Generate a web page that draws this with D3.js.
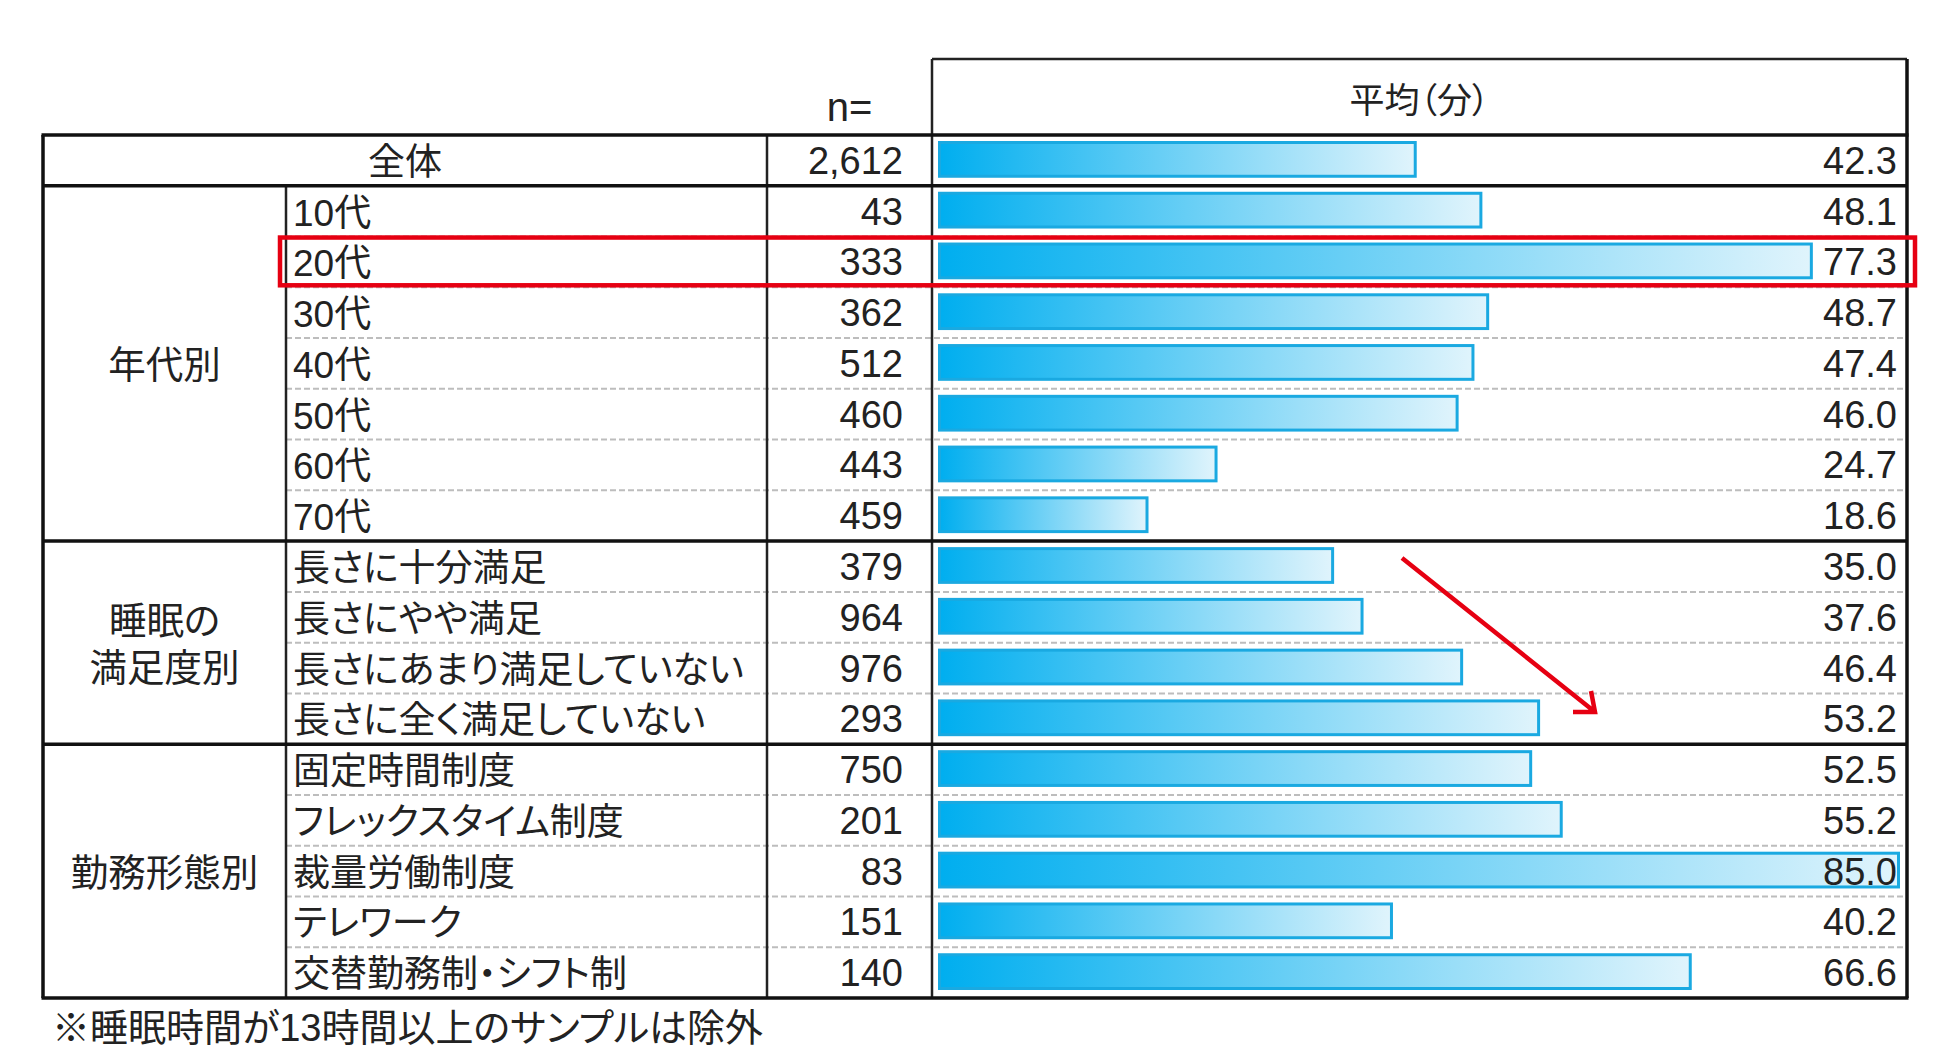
<!DOCTYPE html>
<meta charset="utf-8">
<style>
  body { margin: 0; background: #fff; }
  text { font-family: "Liberation Sans", Arial, "Noto Sans CJK JP", sans-serif; fill: #222; }
  .jp { font-feature-settings: "palt"; }
  .grid { stroke: #bdbdbd; stroke-width: 2; stroke-dasharray: 6,3; }
  .rule { stroke: #222; stroke-width: 2.5; }
  .thick { stroke: #111; stroke-width: 3.5; }
  .bar { fill: url(#barGrad); stroke: #1aa9e1; stroke-width: 3; }
</style>
<svg width="1950" height="1059"></svg>
<script src="https://d3js.org/d3.v7.min.js"></script>
<script>

  // data
  var rowLabels = ["全体", "10代", "20代", "30代", "40代", "50代", "60代", "70代",
    "長さに十分満足", "長さにやや満足", "長さにあまり満足していない", "長さに全く満足していない",
    "固定時間制度", "フレックスタイム制度", "裁量労働制度", "テレワーク", "交替勤務制・シフト制"];
  var rowGroup = ["全体", "年代別", "年代別", "年代別", "年代別", "年代別", "年代別", "年代別",
    "睡眠の満足度別", "睡眠の満足度別", "睡眠の満足度別", "睡眠の満足度別",
    "勤務形態別", "勤務形態別", "勤務形態別", "勤務形態別", "勤務形態別"];
  var groupNames = ["年代別", "睡眠の満足度別", "勤務形態別"];
  var groupLines = [["年代別"], ["睡眠の", "満足度別"], ["勤務形態別"]];
  var nValues = [2612, 43, 333, 362, 512, 460, 443, 459, 379, 964, 976, 293, 750, 201, 83, 151, 140];
  var means = [42.3, 48.1, 77.3, 48.7, 47.4, 46.0, 24.7, 18.6, 35.0, 37.6, 46.4, 53.2, 52.5, 55.2, 85.0, 40.2, 66.6];
  var highlight = "20代";

  var svg = d3.select("svg");

  var xLeft = 43, catRight = 286, labRight = 767, nRight = 932, xRight = 1907,
      headTop = 59, tableTop = 135, tableBottom = 998;

  var y = d3.scaleBand().domain(rowLabels).range([tableTop, tableBottom]);
  var x = d3.scaleLinear().domain([0, 85]).range([938, 1900]);
  var fmtN = d3.format(",");

  var defs = svg.append("defs");
  var grad = defs.append("linearGradient").attr("id", "barGrad");
  grad.append("stop").attr("offset", "0%").attr("stop-color", "#00aeef");
  grad.append("stop").attr("offset", "100%").attr("stop-color", "#e0f4fc");

  // dashed separators inside each group
  var dashed = rowLabels.filter(function(d, i) {
    return i > 0 && rowGroup[i] === rowGroup[i - 1];
  });
  svg.append("g").selectAll("line")
    .data(dashed)
    .enter().append("line")
    .attr("class", "grid")
    .attr("x1", catRight).attr("x2", xRight)
    .attr("y1", function(d) { return y(d); })
    .attr("y2", function(d) { return y(d); });

  // bars
  svg.append("g").selectAll("rect")
    .data(rowLabels)
    .enter().append("rect")
    .attr("class", "bar")
    .attr("x", x(0) + 1.5)
    .attr("y", function(d) { return y(d) + 7.5; })
    .attr("height", y.bandwidth() - 17)
    .attr("width", function(d, i) { return x(means[i]) - x(0) - 3; });

  // table rules
  var g = svg.append("g");
  function rule(cls, x1, y1, x2, y2) {
    g.append("line").attr("class", cls)
      .attr("x1", x1).attr("y1", y1).attr("x2", x2).attr("y2", y2);
  }
  rule("rule", nRight, headTop, xRight, headTop);
  rule("rule", nRight, headTop, nRight, tableBottom);
  rule("thick", xRight, headTop, xRight, tableBottom);
  rule("thick", xLeft, tableTop, xLeft, tableBottom);
  rule("rule", catRight, y("10代"), catRight, tableBottom);
  rule("rule", labRight, tableTop, labRight, tableBottom);
  rule("thick", xLeft - 1.5, tableTop, xRight + 1.5, tableTop);
  rule("thick", xLeft - 1.5, tableBottom, xRight + 1.5, tableBottom);
  groupNames.forEach(function(gn) {
    var first = rowLabels[rowGroup.indexOf(gn)];
    rule("thick", xLeft, y(first), xRight, y(first));
  });

  // header
  svg.append("text")
    .attr("x", (labRight + nRight) / 2).attr("y", 121)
    .attr("text-anchor", "middle").style("font-size", "40px")
    .text("n=");
  svg.append("text")
    .attr("class", "jp")
    .attr("x", (nRight + xRight) / 2).attr("y", 100)
    .attr("text-anchor", "middle").attr("dominant-baseline", "central")
    .style("font-size", "35px")
    .text("平均（分）");

  // group labels
  groupNames.forEach(function(gn, k) {
    var rows = rowLabels.filter(function(d, i) { return rowGroup[i] === gn; });
    var cy = (y(rows[0]) + y(rows[rows.length - 1]) + y.bandwidth()) / 2;
    var lines = groupLines[k];
    lines.forEach(function(t, j) {
      svg.append("text")
        .attr("class", "jp")
        .attr("x", (xLeft + catRight) / 2)
        .attr("y", cy + 2 + (j - (lines.length - 1) / 2) * 47)
        .attr("text-anchor", "middle").attr("dominant-baseline", "central")
        .style("font-size", "37.5px")
        .text(t);
    });
  });

  // row labels
  svg.append("g").selectAll("text")
    .data(rowLabels)
    .enter().append("text")
    .attr("class", "jp")
    .attr("x", function(d, i) { return i === 0 ? (xLeft + labRight) / 2 : 293; })
    .attr("y", function(d) { return y(d) + y.bandwidth() / 2 + 2; })
    .attr("text-anchor", function(d, i) { return i === 0 ? "middle" : "start"; })
    .attr("dominant-baseline", "central")
    .style("font-size", "37px")
    .text(function(d) { return d; });

  // n values
  svg.append("g").selectAll("text")
    .data(nValues)
    .enter().append("text")
    .attr("x", 903)
    .attr("y", function(d, i) { return y(rowLabels[i]) + y.bandwidth() / 2 + 13.5; })
    .attr("text-anchor", "end")
    .style("font-size", "38px")
    .text(function(d) { return fmtN(d); });

  // mean values
  svg.append("g").selectAll("text")
    .data(means)
    .enter().append("text")
    .attr("x", 1897)
    .attr("y", function(d, i) { return y(rowLabels[i]) + y.bandwidth() / 2 + 13.5; })
    .attr("text-anchor", "end")
    .style("font-size", "38px")
    .text(function(d) { return d.toFixed(1); });

  // highlight box around 20代
  svg.append("rect")
    .attr("x", 280).attr("y", y(highlight) + 1)
    .attr("width", 1635).attr("height", y.bandwidth() - 3)
    .attr("fill", "none").attr("stroke", "#e60012").attr("stroke-width", 4.5);

  // trend arrow over the sleep satisfaction rows
  svg.append("path")
    .attr("d", "M1402,558L1595,712M1573,712L1595,712L1591,691")
    .attr("fill", "none").attr("stroke", "#e60012")
    .attr("stroke-width", 4.5).attr("stroke-linejoin", "miter");

  // footnote
  svg.append("text")
    .attr("class", "jp")
    .attr("x", 52).attr("y", 1028)
    .attr("dominant-baseline", "central")
    .style("font-size", "38px")
    .text("※睡眠時間が13時間以上のサンプルは除外");

</script>
